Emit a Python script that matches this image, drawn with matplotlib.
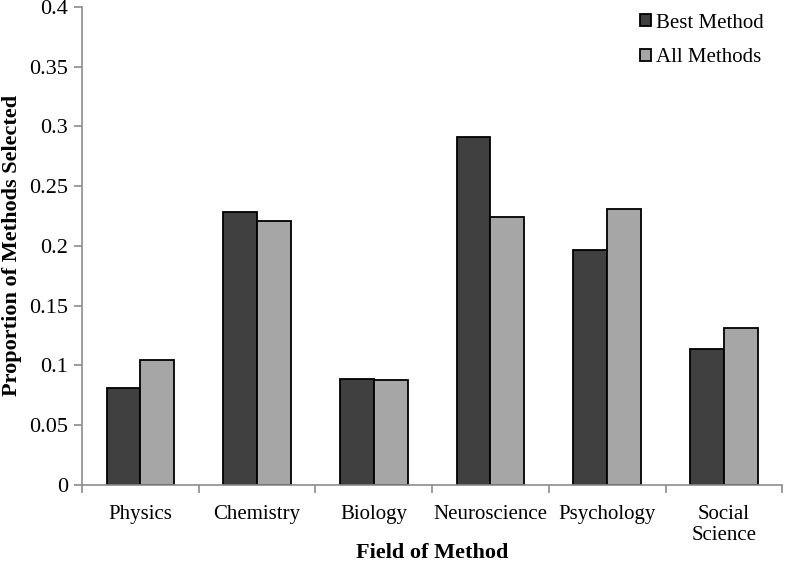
import numpy as np
import matplotlib.pyplot as plt

fields = ["Physics", "Chemistry", "Biology", "Neuroscience", "Psychology", "Social\nScience"]
best_method = [0.081, 0.228, 0.089, 0.291, 0.197, 0.114]
all_methods = [0.105, 0.221, 0.088, 0.224, 0.231, 0.131]

plt.rcParams['font.family'] = ['Liberation Serif', 'DejaVu Serif']

fig = plt.figure(figsize=(7.85, 5.66), dpi=100)
ax = fig.add_axes([0.1045, 0.143, 0.892, 0.845])

x = np.arange(len(fields))
w = 0.29
ax.bar(x - w / 2, best_method, w, color="#404040", edgecolor="black", linewidth=1.3, label="Best Method")
ax.bar(x + w / 2, all_methods, w, color="#a6a6a6", edgecolor="black", linewidth=1.3, label="All Methods")

ax.set_xlim(-0.5, len(fields) - 0.5)
ax.set_ylim(0, 0.4)
ax.set_yticks(np.arange(0, 0.401, 0.05))
ax.set_yticklabels(["0", "0.05", "0.1", "0.15", "0.2", "0.25", "0.3", "0.35", "0.4"])
ax.set_xticks(x)
ax.set_xticklabels(fields, linespacing=1.15)
ax.set_xticks(np.arange(-0.5, len(fields)), minor=True)
ax.tick_params(axis="x", which="major", length=0, pad=14, labelsize=15)
ax.tick_params(axis="x", which="minor", length=6, color="#8c8c8c", width=1.2)
ax.tick_params(axis="y", length=6, color="#8c8c8c", width=1.2, labelsize=16, pad=4)

for s in ["top", "right"]:
    ax.spines[s].set_visible(False)
for s in ["left", "bottom"]:
    ax.spines[s].set_color("#8c8c8c")
    ax.spines[s].set_linewidth(1.2)

ax.set_xlabel("Field of Method", fontsize=16, fontweight="bold", va="center")
ax.xaxis.set_label_coords(0.5, -0.142)
ax.set_ylabel("Proportion of Methods Selected", fontsize=16, fontweight="bold", va="center")
ax.yaxis.set_label_coords(-0.1, 0.5)

ax.legend(loc="upper right", frameon=False, fontsize=15, handlelength=0.5, handleheight=0.5,
          handletextpad=0.25, labelspacing=0.75, bbox_to_anchor=(1.0, 1.025))

fig.savefig("out.png", dpi=100)
